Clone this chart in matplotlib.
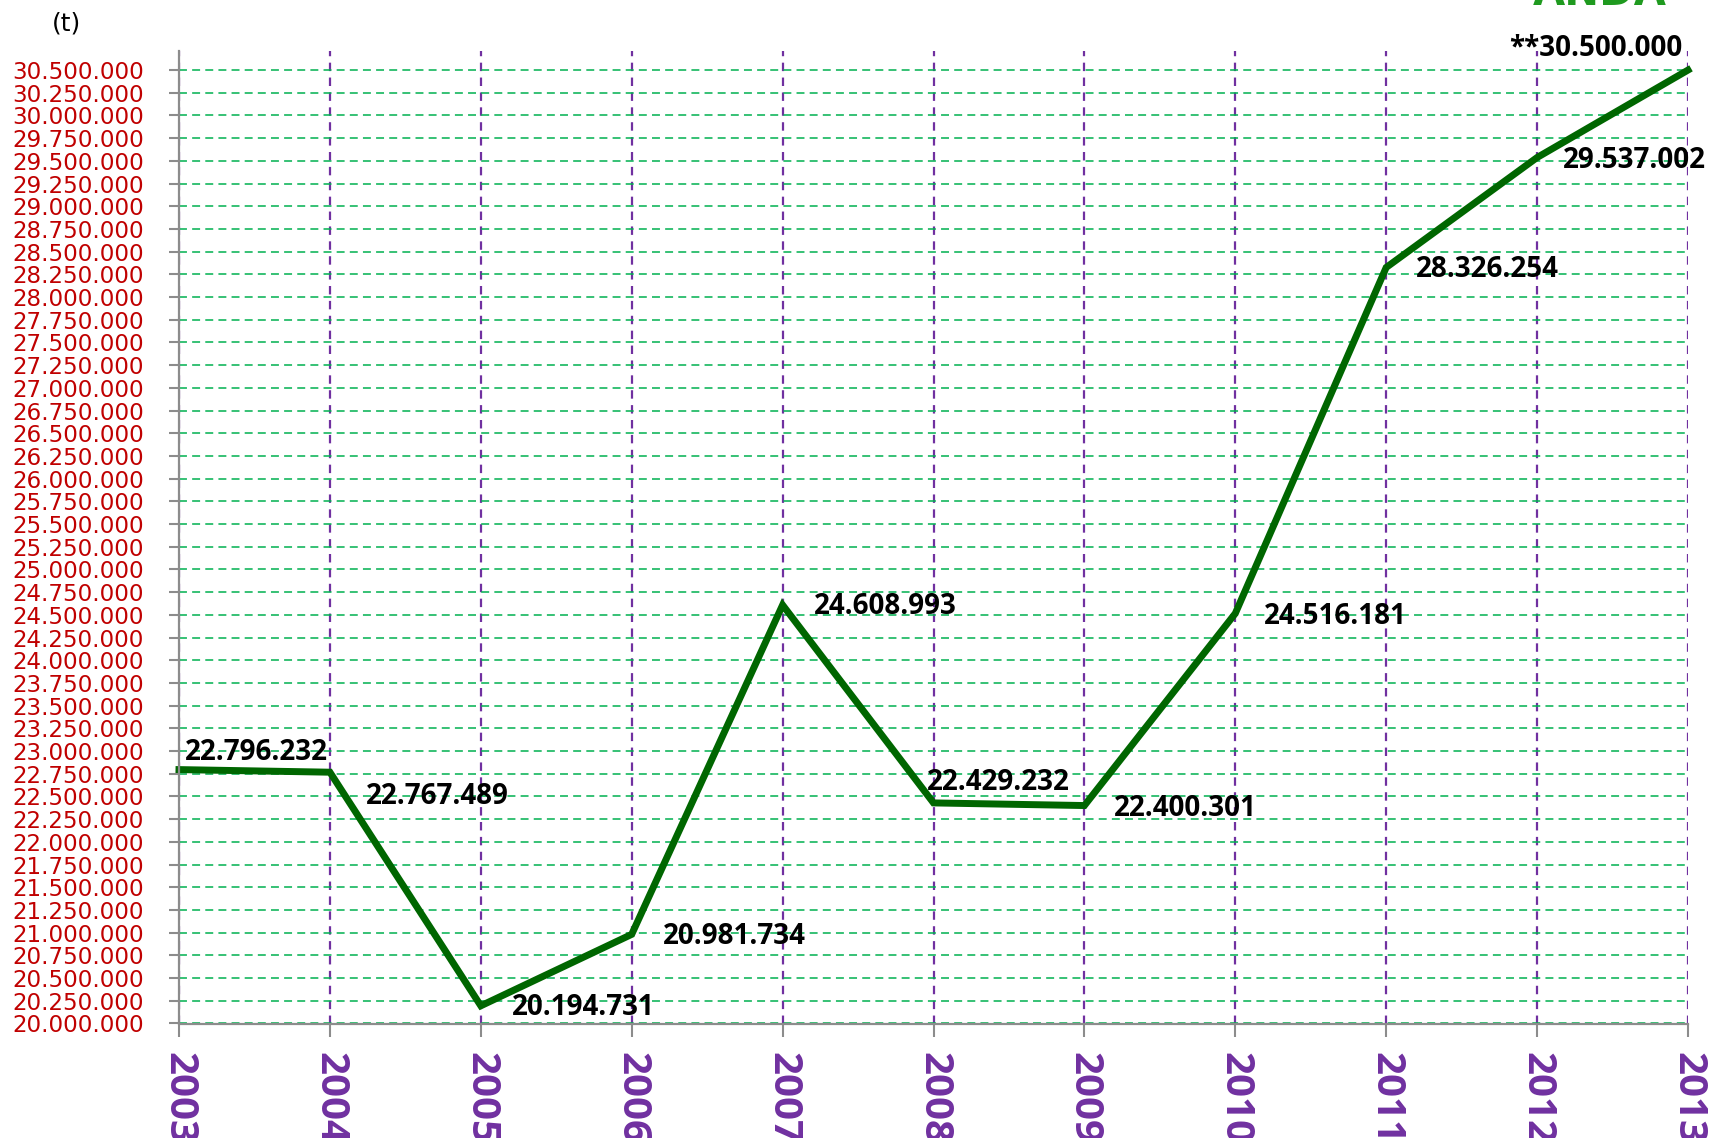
import matplotlib
matplotlib.use('Agg')
import matplotlib.pyplot as plt
from matplotlib.ticker import MultipleLocator, FuncFormatter

# tonnes per year
years = [2003, 2004, 2005, 2006, 2007, 2008, 2009, 2010, 2011, 2012, 2013]
tonnes = [22796232, 22767489, 20194731, 20981734, 24608993, 22429232,
          22400301, 24516181, 28326254, 29537002, 30500000]
point_labels = ['22.796.232', '22.767.489', '20.194.731', '20.981.734',
                '24.608.993', '22.429.232', '22.400.301', '24.516.181',
                '28.326.254', '29.537.002', '**30.500.000']
# label offsets in pixels from each point (dx, dy, horizontal alignment)
label_offsets = [(6, 17, 'left'), (36, -24, 'left'), (31, -2, 'left'),
                 (31, -2, 'left'), (31, -2, 'left'), (-7, 20, 'left'),
                 (30, -3, 'left'), (29, -3, 'left'), (30, -2, 'left'),
                 (26, -3, 'left'), (-6, 22, 'right')]

Y_MIN, Y_MAX = 20000000, 30710000
Y_STEP = 250000

LINE_GREEN = '#006600'
GRID_GREEN = '#00B050'
PURPLE = '#7030A0'
RED = '#C00000'
GRAY = '#8C8C8C'
BOLD_FONT = ['Open Sans', 'DejaVu Sans']


def dotted_thousands(v, pos=None):
    return f'{int(round(v)):,}'.replace(',', '.')


fig = plt.figure(figsize=(17.09, 11.38), dpi=100)
ax = fig.add_axes([179 / 1709, 1 - 1023.5 / 1138, (1688 - 179) / 1709, (1023.5 - 51) / 1138])

ax.plot(years, tonnes, color=LINE_GREEN, linewidth=5.0, solid_joinstyle='miter',
        clip_on=False, zorder=5)

ax.set_xlim(years[0], years[-1])
ax.set_ylim(Y_MIN, Y_MAX)
ax.yaxis.set_major_locator(MultipleLocator(Y_STEP))
ax.yaxis.set_major_formatter(FuncFormatter(dotted_thousands))
ax.set_xticks(years)
ax.set_xticklabels([str(y) for y in years])

# grids: green horizontal, purple vertical
ax.grid(axis='y', color=GRID_GREEN, linewidth=1.1, linestyle=(0, (5.2, 3.4)))
ax.grid(axis='x', color=PURPLE, linewidth=1.6, linestyle=(0, (3.8, 2.9)))
ax.set_axisbelow(True)

for side in ('top', 'right'):
    ax.spines[side].set_visible(False)
for side in ('left', 'bottom'):
    ax.spines[side].set_color(GRAY)
    ax.spines[side].set_linewidth(1.6)
    ax.spines[side].set_zorder(6)

ax.tick_params(axis='y', direction='out', length=7.2, width=1.5, color=GRAY,
               labelcolor=RED, labelsize=16.6, pad=18)
ax.tick_params(axis='x', direction='out', length=9.4, width=1.5, color=GRAY,
               labelcolor=PURPLE, pad=11)
for lbl in ax.get_xticklabels():
    lbl.set_rotation(270)
    lbl.set_fontfamily(BOLD_FONT)
    lbl.set_fontweight('bold')
    lbl.set_fontsize(29)
    lbl.set_va('top')
    lbl.set_ha('center')

for x, y, txt, (dx, dy, ha) in zip(years, tonnes, point_labels, label_offsets):
    ax.annotate(txt, (x, y), xytext=(dx, dy), textcoords='offset pixels',
                ha=ha, va='center', fontsize=20, fontweight='bold',
                family=BOLD_FONT, color='black', annotation_clip=False, zorder=7)

fig.text(67 / 1709, 1 - 23 / 1138, '(t)', ha='center', va='center', fontsize=18, color='black')
# logo text at the top edge, mostly cut off in the reference
fig.text(1600 / 1709, 1 - 5 / 1138, 'ANDA', ha='center', va='baseline',
         fontsize=30, fontweight='bold', color='#1F9A1F')

fig.savefig('out.png', dpi=100)
